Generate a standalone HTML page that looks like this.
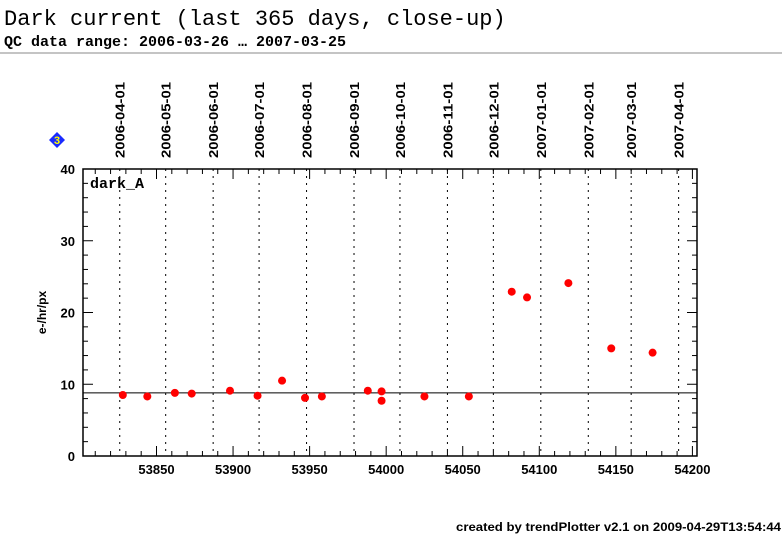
<!DOCTYPE html>
<html><head><meta charset="utf-8"><style>
body{margin:0;background:#fff;width:782px;height:542px;overflow:hidden}
svg{display:block}
</style></head><body>
<svg id="chart" width="782" height="542" xmlns="http://www.w3.org/2000/svg">
<text x="4" y="25" font-family="Liberation Mono, monospace" font-size="22">Dark current (last 365 days, close-up)</text>
<text x="4" y="46" font-family="Liberation Mono, monospace" font-size="15" font-weight="bold">QC data range: 2006-03-26 … 2007-03-25</text>
<line x1="0" y1="53" x2="782" y2="53" stroke="#888" stroke-width="1"/>
<g><polygon points="57,132 65,140 57,148 49,140" fill="#1a2bff"/><text x="57" y="144" text-anchor="middle" font-family="Liberation Sans, sans-serif" font-size="11" font-weight="bold" fill="#ff0">3</text></g>
<text x="456" y="531" textLength="325" lengthAdjust="spacingAndGlyphs" font-family="Liberation Sans, sans-serif" font-size="12" font-weight="bold">created by trendPlotter v2.1 on 2009-04-29T13:54:44</text>
<g id="plot"></g>
</svg>
<script>
const xTicks=[53850,53900,53950,54000,54050,54100,54150,54200];
const yTicks=[0,10,20,30,40];
const dateLabels=["2006-04-01","2006-05-01","2006-06-01","2006-07-01","2006-08-01","2006-09-01","2006-10-01","2006-11-01","2006-12-01","2007-01-01","2007-02-01","2007-03-01","2007-04-01"];
const dateMjd=[53826,53856,53887,53917,53948,53979,54009,54040,54070,54101,54132,54160,54191];
const mjd=[53828,53844,53862,53873,53898,53916,53932,53947,53958,53988,53997,53997,54025,54054,54082,54092,54119,54147,54174];
const darkA=[8.5,8.3,8.8,8.7,9.1,8.4,10.5,8.1,8.3,9.1,9.0,7.7,8.3,8.3,22.9,22.1,24.1,15.0,14.4];
const refLevel=[8.8];
const L=83,R=697,T=169,B=456,x0=53802,x1=54203,y0=0,y1=40;
const X=v=>L+(v-x0)/(x1-x0)*(R-L);
const Y=v=>B-(v-y0)/(y1-y0)*(B-T);
const NS="http://www.w3.org/2000/svg";
const g=document.getElementById('plot');
function mk(t,a,txt){const e=document.createElementNS(NS,t);for(const k in a)e.setAttribute(k,a[k]);if(txt!==undefined)e.textContent=txt;g.appendChild(e);return e;}
dateMjd.forEach((d,i)=>{
 const l=mk('line',{x1:X(d),x2:X(d),y1:T,y2:B,stroke:'#000','stroke-width':1,'stroke-dasharray':'2,5'});
 
 
 const t=mk('text',{x:0,y:0,transform:`translate(${X(d)+5},158) rotate(-90)`,textLength:76,lengthAdjust:'spacingAndGlyphs','font-family':'Liberation Sans, sans-serif','font-size':13,'font-weight':'bold'},dateLabels[i]);
 
 
});
const fr=mk('rect',{x:L,y:T,width:R-L,height:B-T,fill:'none',stroke:'#000','stroke-width':1.5});


for(let v=53810;v<=54200;v+=10){const big=v%50===0;
 mk('line',{x1:X(v),x2:X(v),y1:B,y2:B-(big?10:5),stroke:'#000'});
 mk('line',{x1:X(v),x2:X(v),y1:T,y2:T+(big?10:5),stroke:'#000'});}
for(let v=0;v<=40;v+=2){const big=v%10===0;
 mk('line',{x1:L,x2:L+(big?10:5),y1:Y(v),y2:Y(v),stroke:'#000'});
 mk('line',{x1:R,x2:R-(big?10:5),y1:Y(v),y2:Y(v),stroke:'#000'});}
xTicks.forEach(v=>{const t=mk('text',{x:X(v),y:474,'text-anchor':'middle','font-family':'Liberation Sans, sans-serif','font-size':13,'font-weight':'bold'},String(v));
 
 });
yTicks.forEach(v=>{const t=mk('text',{x:75,y:Y(v)+5,'text-anchor':'end','font-family':'Liberation Sans, sans-serif','font-size':13,'font-weight':'bold'},String(v));
 
 });
const yt=mk('text',{x:0,y:0,transform:`translate(46,${(T+B)/2}) rotate(-90)`,'text-anchor':'middle','font-family':'Liberation Sans, sans-serif','font-size':12,'font-weight':'bold'},'e-/hr/px');


const lb=mk('text',{x:90,y:188,'font-family':'Liberation Mono, monospace','font-size':15,'font-weight':'bold'},'dark_A');


const rl=mk('line',{x1:L,x2:R,y1:Y(refLevel[0]),y2:Y(refLevel[0]),stroke:'#000','stroke-width':1});


mjd.forEach((d,i)=>{const c=mk('circle',{cx:X(d),cy:Y(darkA[i]),r:4,fill:'#ff0000'});
 
 });
</script>
</body></html>
